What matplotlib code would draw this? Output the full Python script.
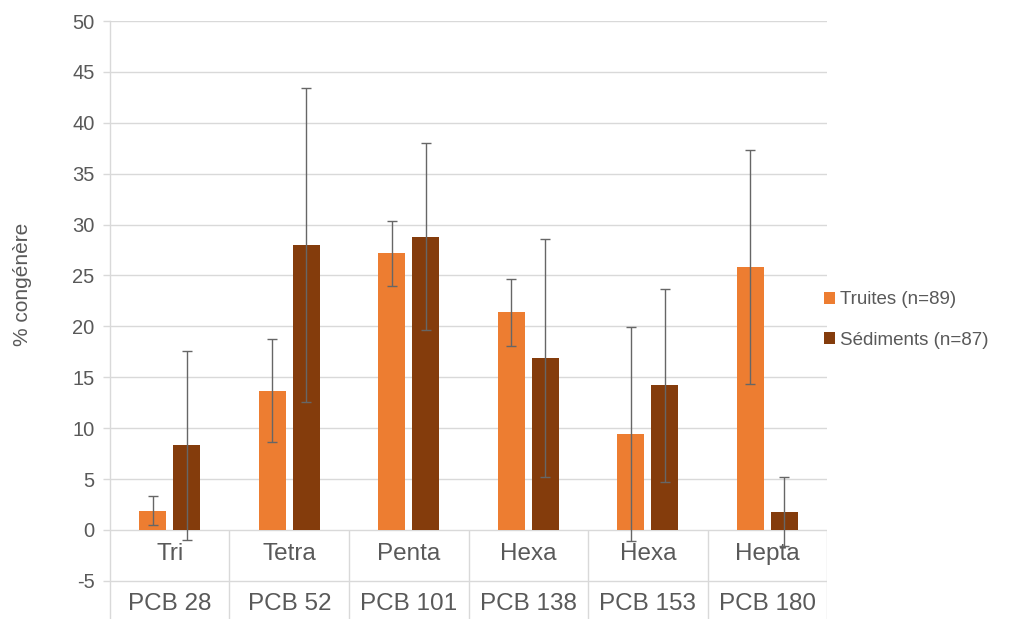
import numpy as np
import matplotlib
matplotlib.use('Agg')
import matplotlib.pyplot as plt

plt.rcParams['font.family'] = ['Liberation Sans', 'DejaVu Sans']
plt.rcParams['axes.unicode_minus'] = False

# data
groups = ['Tri', 'Tetra', 'Penta', 'Hexa', 'Hexa', 'Hepta']
congeners = ['PCB 28', 'PCB 52', 'PCB 101', 'PCB 138', 'PCB 153', 'PCB 180']
truites = [1.9, 13.7, 27.2, 21.4, 9.4, 25.8]
truites_err = [1.4, 5.1, 3.2, 3.3, 10.5, 11.5]
sediments = [8.3, 28.0, 28.8, 16.9, 14.2, 1.8]
sediments_err = [9.3, 15.4, 9.2, 11.7, 9.5, 3.4]

labels = ['Truites (n=89)', 'Sédiments (n=87)']
colors = ['#ED7D31', '#843C0C']
txt = '#595959'
grid = '#D9D9D9'

fig = plt.figure(figsize=(10.23, 6.19), dpi=100)
ax = fig.add_axes([0.1075, 0.0, 0.701, 0.966])

x = np.arange(len(groups)) + 0.5
w = 0.225
off = 0.142

ax.bar(x - off, truites, w, color=colors[0], label=labels[0], zorder=3)
ax.bar(x + off, sediments, w, color=colors[1], label=labels[1], zorder=3)
ax.errorbar(x - off, truites, yerr=truites_err, fmt='none', ecolor='#666666',
            elinewidth=1.0, capsize=3.6, capthick=1.0, zorder=4)
ax.errorbar(x + off, sediments, yerr=sediments_err, fmt='none', ecolor='#666666',
            elinewidth=1.0, capsize=3.6, capthick=1.0, zorder=4)

ax.set_xlim(0, len(groups))
ax.set_ylim(-8.75, 50)
ax.set_yticks(np.arange(-5, 51, 5))
ax.yaxis.grid(True, color=grid, linewidth=1.0, zorder=0)
ax.set_xticks([])

for s in ['top', 'right', 'bottom']:
    ax.spines[s].set_visible(False)
ax.spines['left'].set_color(grid)
ax.spines['left'].set_linewidth(1.0)
ax.tick_params(axis='y', colors=grid, length=5, width=1.0, labelcolor=txt,
               labelsize=14.5, pad=6)

# category table below zero
ax.vlines(np.arange(1, len(groups) + 1), -8.75, 0, color=grid, linewidth=1.0, zorder=2)
for i in range(len(groups)):
    ax.text(x[i], -2.4, groups[i], ha='center', va='center', fontsize=17.5, color=txt)
    ax.text(x[i], -7.3, congeners[i], ha='center', va='center', fontsize=17.5, color=txt)

fig.text(0.022, 0.54, '% congénère', rotation=90, ha='center', va='center',
         fontsize=15, color=txt)

fig.legend(loc='center left', bbox_to_anchor=(0.789, 0.483), frameon=False,
           handlelength=0.6, handleheight=0.6, handletextpad=0.25,
           labelspacing=1.25, fontsize=13.5, labelcolor=txt)

fig.savefig('out.png', dpi=100)
